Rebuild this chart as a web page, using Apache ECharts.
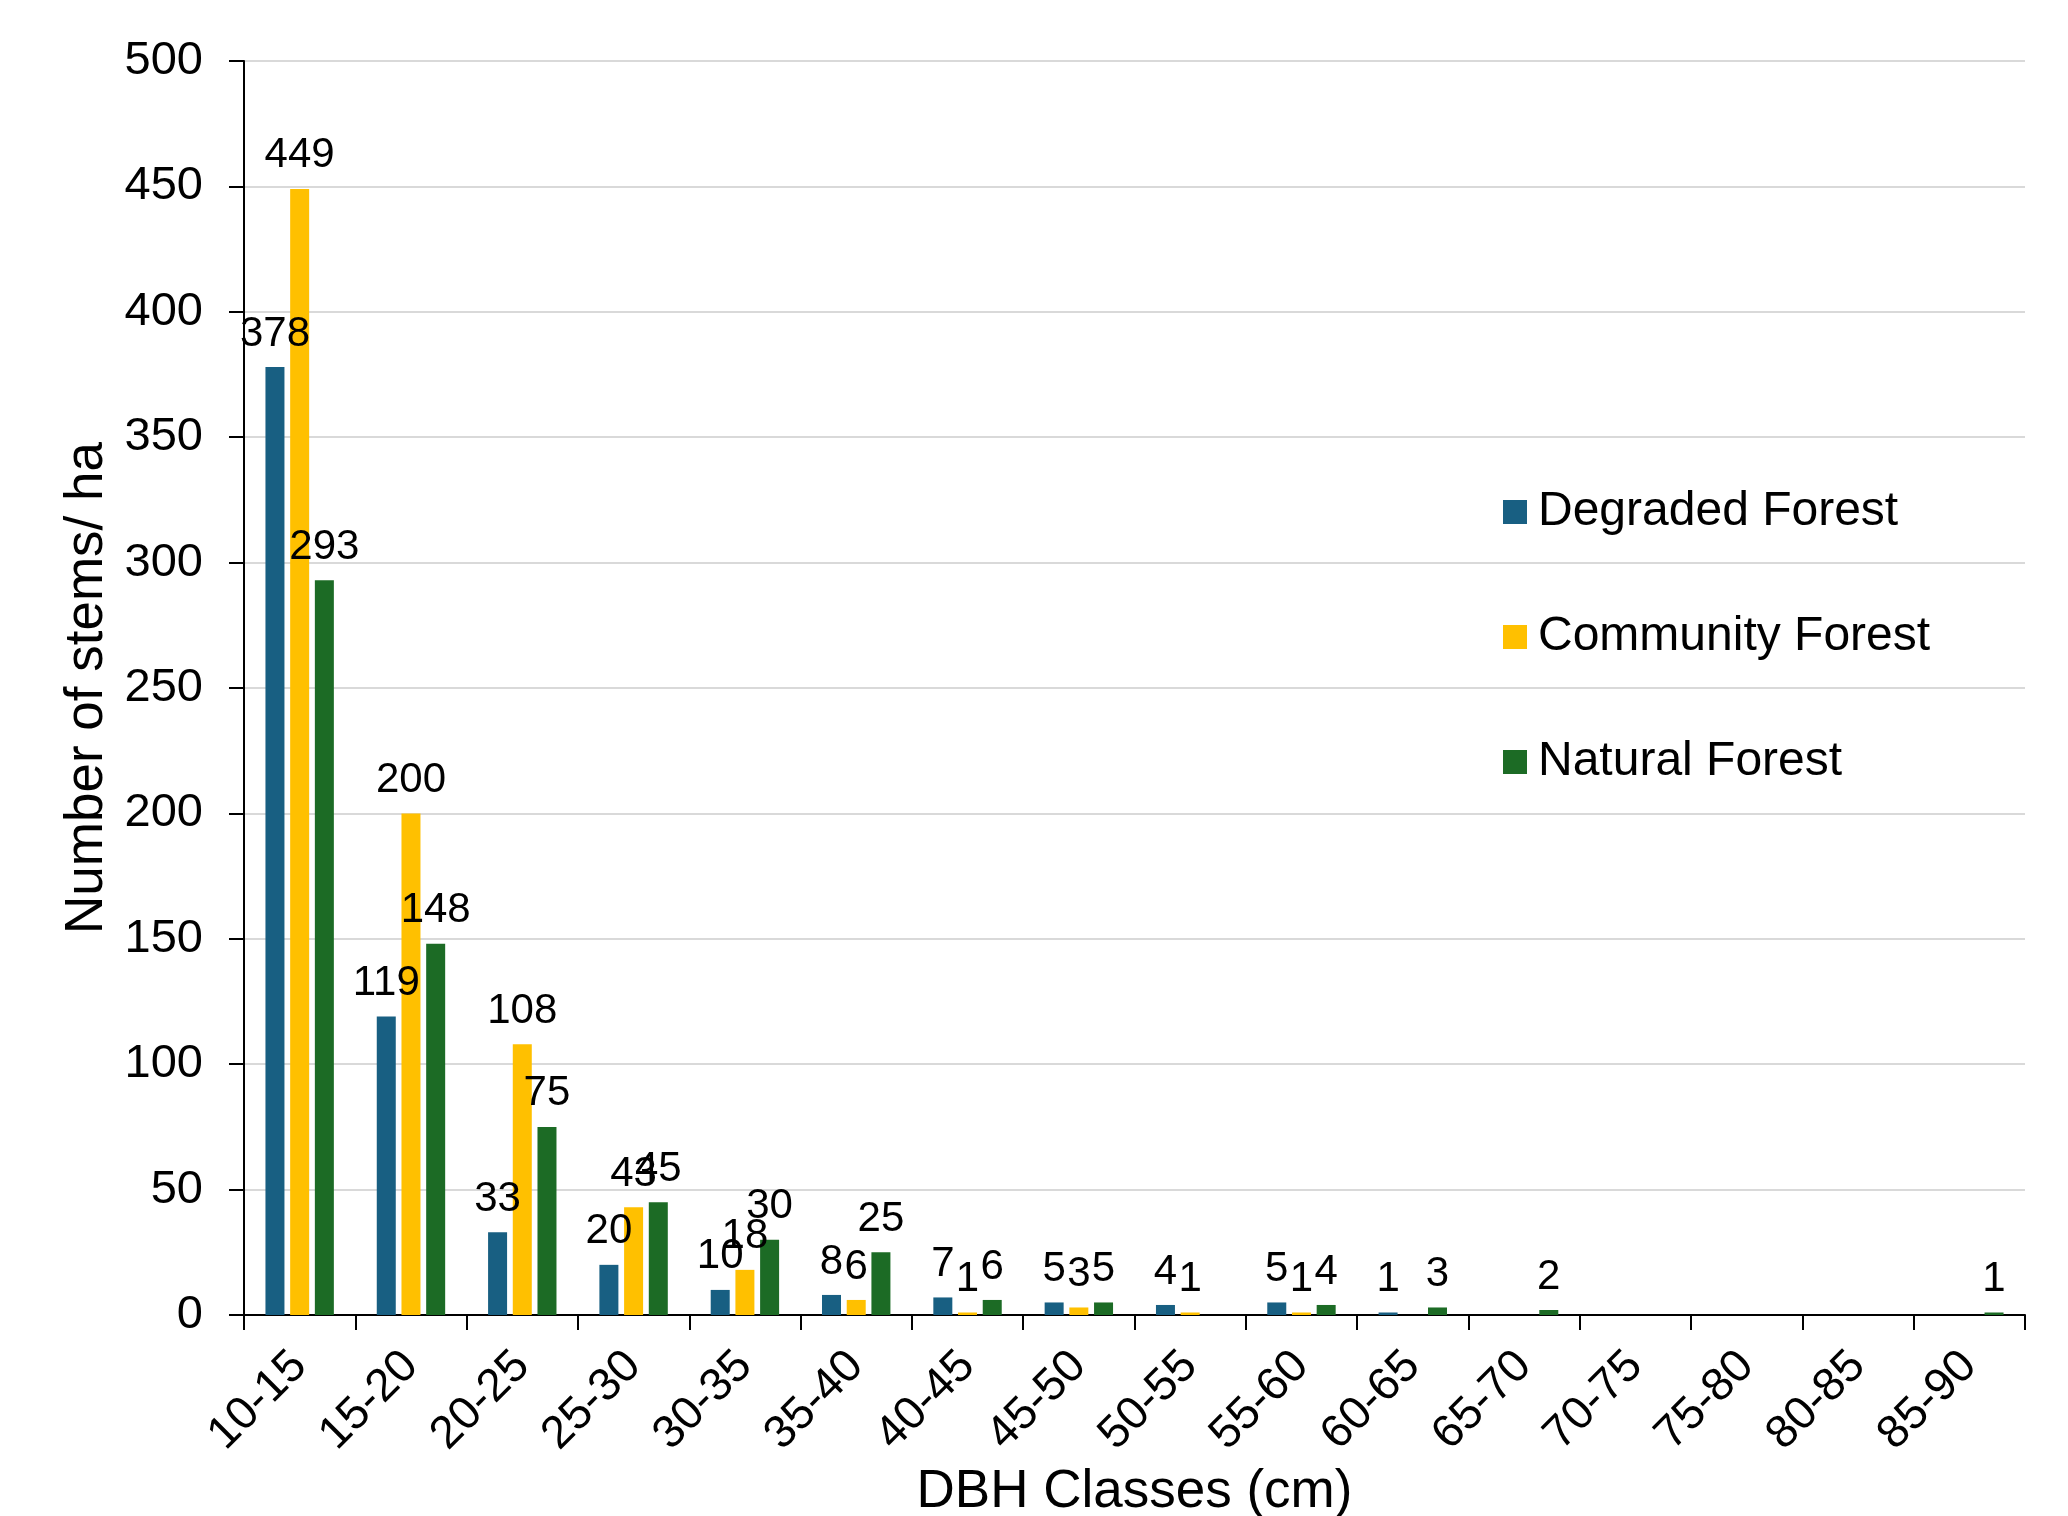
<!DOCTYPE html>
<html>
<head>
<meta charset="utf-8">
<script src="https://cdn.jsdelivr.net/npm/echarts@6/dist/echarts.min.js"></script>
<style>
  html, body { margin: 0; padding: 0; background: #fff; }
  #chart { width: 2068px; height: 1516px; }
</style>
</head>
<body>
<div id="chart"></div>
<script>
// DBH classes and stem density (stems per hectare) for each forest type
const dbhClasses = ['10-15', '15-20', '20-25', '25-30', '30-35', '35-40', '40-45', '45-50',
  '50-55', '55-60', '60-65', '65-70', '70-75', '75-80', '80-85', '85-90'];
const degradedForest  = [378, 119, 33, 20, 10, 8, 7, 5, 4, 5, 1, 0, 0, 0, 0, 0];
const communityForest = [449, 200, 108, 43, 18, 6, 1, 3, 1, 1, 0, 0, 0, 0, 0, 0];
const naturalForest   = [293, 148, 75, 45, 30, 25, 6, 5, 0, 4, 3, 2, 0, 0, 0, 1];
const yTicks = { min: 0, max: 500, interval: 50 };

const FONT = '"Liberation Sans", Arial, sans-serif';

function barSeries(name, values, color) {
  return {
    name: name,
    type: 'bar',
    data: values,
    barWidth: 19,
    barGap: '30%',
    itemStyle: { color: color },
    label: {
      show: true,
      position: 'top',
      distance: 12,
      color: '#000',
      fontFamily: FONT,
      fontSize: 42,
      formatter: p => (p.value === 0 ? '' : String(p.value))
    }
  };
}

const chart = echarts.init(document.getElementById('chart'), null, { renderer: 'canvas' });
chart.setOption({
  animation: false,
  backgroundColor: '#fff',
  textStyle: { fontFamily: FONT },
  grid: { left: 244, right: 43, top: 61, bottom: 201, containLabel: false, outerBoundsMode: 'none' },
  legend: {
    orient: 'vertical',
    left: 1503,
    top: 482,
    padding: 0,
    itemWidth: 24,
    itemHeight: 24,
    itemGap: 65,
    icon: 'rect',
    textStyle: { fontFamily: FONT, fontSize: 48, color: '#000', lineHeight: 60, padding: [0, 0, 0, 6] },
    data: ['Degraded Forest', 'Community Forest', 'Natural Forest']
  },
  xAxis: {
    type: 'category',
    data: dbhClasses,
    boundaryGap: true,
    name: 'DBH Classes (cm)',
    nameLocation: 'middle',
    nameGap: 151,
    nameTextStyle: { fontFamily: FONT, fontSize: 53, color: '#000' },
    axisLine: { lineStyle: { color: '#000', width: 2 } },
    axisTick: { show: true, length: 15, alignWithLabel: false, lineStyle: { color: '#000', width: 2 } },
    axisLabel: { rotate: 45, margin: 44, fontFamily: FONT, fontSize: 46, color: '#000', interval: 0 }
  },
  yAxis: {
    type: 'value',
    min: yTicks.min,
    max: yTicks.max,
    interval: yTicks.interval,
    name: 'Number of stems/ ha',
    nameLocation: 'middle',
    nameGap: 130,
    nameTextStyle: { fontFamily: FONT, fontSize: 53, color: '#000' },
    axisLine: { show: true, lineStyle: { color: '#000', width: 2 } },
    axisTick: { show: true, length: 15, lineStyle: { color: '#000', width: 2 } },
    axisLabel: { margin: 41, fontFamily: FONT, fontSize: 47, color: '#000' },
    splitLine: { show: true, lineStyle: { color: '#d9d9d9', width: 2 } }
  },
  series: [
    barSeries('Degraded Forest', degradedForest, '#185f82'),
    barSeries('Community Forest', communityForest, '#ffc000'),
    barSeries('Natural Forest', naturalForest, '#1c6b25')
  ]
});
</script>
</body>
</html>
